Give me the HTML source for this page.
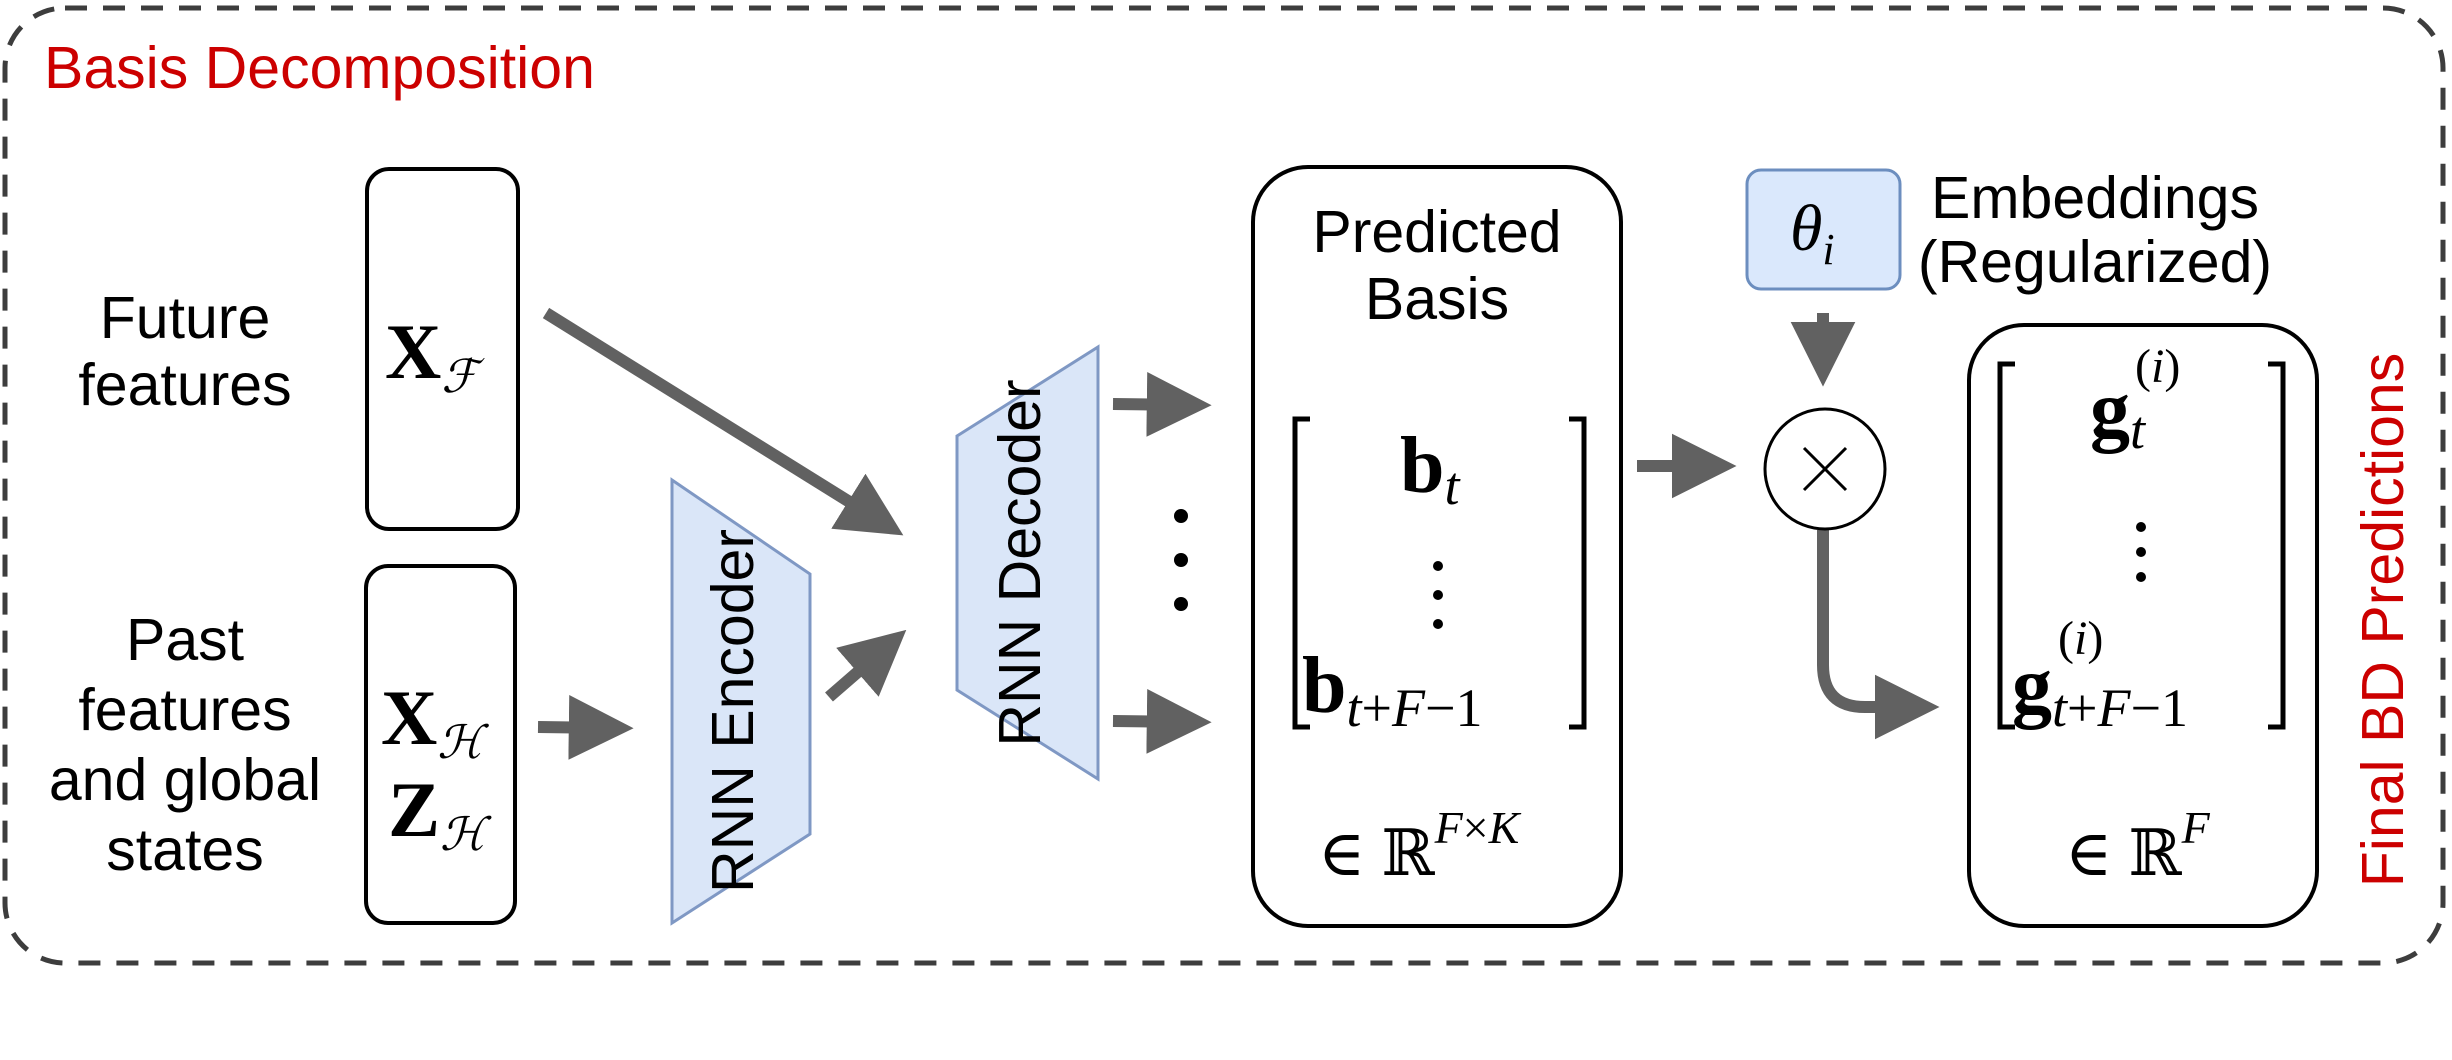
<!DOCTYPE html>
<html><head><meta charset="utf-8"><style>
html,body{margin:0;padding:0;background:#fff;}
svg{display:block}
.t{font-family:"Liberation Sans",Arial,sans-serif;font-size:59px;fill:#000}
.m{font-family:"Liberation Serif","DejaVu Serif",serif;fill:#000}
</style></head><body>
<svg width="2452" height="1060" viewBox="0 0 2452 1060" xmlns="http://www.w3.org/2000/svg">
<defs>
<marker id="ah" markerWidth="5.4" markerHeight="5.4" refX="3.6" refY="2.7" orient="auto" markerUnits="strokeWidth">
<path d="M0,0 L5.4,2.7 L0,5.4 z" fill="#616161"/>
</marker>
</defs>
<rect x="5" y="8" width="2438" height="955" rx="60" fill="none" stroke="#3d3d3d" stroke-width="5" stroke-dasharray="22,16"/>
<text x="44" y="88" class="t" style="fill:#cc0000">Basis Decomposition</text>

<text class="t" text-anchor="middle"><tspan x="185" y="338">Future</tspan><tspan x="185" y="405">features</tspan></text>
<text class="t" text-anchor="middle"><tspan x="185" y="660">Past</tspan><tspan x="185" y="730">features</tspan><tspan x="185" y="800">and global</tspan><tspan x="185" y="870">states</tspan></text>

<rect x="367" y="169" width="151" height="360" rx="22" fill="#fff" stroke="#000" stroke-width="4"/>
<rect x="366" y="566" width="149" height="357" rx="22" fill="#fff" stroke="#000" stroke-width="4"/>
<text class="m" x="385" y="378" font-size="78" font-weight="bold">X<tspan font-size="46" font-style="italic" font-weight="normal" dy="14">ℱ</tspan></text>
<text class="m" x="381" y="744" font-size="78" font-weight="bold">X<tspan font-size="46" font-style="italic" font-weight="normal" dy="14">ℋ</tspan></text>
<text class="m" x="388" y="836" font-size="78" font-weight="bold">Z<tspan font-size="46" font-style="italic" font-weight="normal" dy="14">ℋ</tspan></text>

<polygon points="672,480 810,574 810,834 672,923" fill="#dae6f8" stroke="#7f98c4" stroke-width="3"/>
<text class="t" font-size="36" text-anchor="middle" transform="translate(753,711) rotate(-90)">RNN Encoder</text>
<polygon points="957,436 1098,347 1098,779 957,690" fill="#dae6f8" stroke="#7f98c4" stroke-width="3"/>
<text class="t" font-size="36" text-anchor="middle" transform="translate(1040,563) rotate(-90)">RNN Decoder</text>

<g stroke="#616161" stroke-width="12" fill="none" marker-end="url(#ah)">
<line x1="546" y1="313" x2="885" y2="524"/>
<line x1="538" y1="727" x2="612" y2="728"/>
<line x1="829" y1="697" x2="890" y2="644"/>
<line x1="1113" y1="404" x2="1190" y2="405"/>
<line x1="1113" y1="721" x2="1190" y2="722"/>
<line x1="1637" y1="466" x2="1715" y2="466"/>
<line x1="1823" y1="313" x2="1823" y2="365"/>
<path d="M1823,530 L1823,665 Q1823,707 1865,707 L1918,707"/>
</g>
<circle cx="1181" cy="516" r="7" fill="#000"/>
<circle cx="1181" cy="560" r="7" fill="#000"/>
<circle cx="1181" cy="604" r="7" fill="#000"/>

<rect x="1253" y="167" width="368" height="759" rx="55" fill="#fff" stroke="#000" stroke-width="4"/>
<text class="t" text-anchor="middle"><tspan x="1437" y="252">Predicted</tspan><tspan x="1437" y="319">Basis</tspan></text>
<path d="M1310,419 H1295 V727 H1310 M1569,419 H1584 V727 H1569" fill="none" stroke="#000" stroke-width="5"/>
<text class="m" x="1400" y="492" font-size="80" font-weight="bold">b<tspan font-size="54" font-style="italic" font-weight="normal" dy="12">t</tspan></text>
<circle cx="1438" cy="566" r="5" fill="#000"/><circle cx="1438" cy="595" r="5" fill="#000"/><circle cx="1438" cy="624" r="5" fill="#000"/>
<text class="m" x="1302" y="712" font-size="80" font-weight="bold">b<tspan font-size="54" font-style="italic" font-weight="normal" dy="14">t</tspan><tspan font-size="54" font-weight="normal">+</tspan><tspan font-size="54" font-style="italic" font-weight="normal">F</tspan><tspan font-size="54" font-weight="normal">−1</tspan></text>
<text class="m" x="1318" y="875" font-size="64">∈ ℝ<tspan font-size="46" font-style="italic" dy="-32">F</tspan><tspan font-size="46">×</tspan><tspan font-size="46" font-style="italic">K</tspan></text>

<rect x="1747" y="170" width="153" height="119" rx="14" fill="#dae8fc" stroke="#6c8ebf" stroke-width="3"/>
<text class="m" x="1790" y="250" font-size="66" font-style="italic">θ<tspan font-size="44" dy="14">i</tspan></text>
<text class="t" text-anchor="middle"><tspan x="2095" y="218">Embeddings</tspan><tspan x="2095" y="282">(Regularized)</tspan></text>

<circle cx="1825" cy="469" r="60" fill="#fff" stroke="#000" stroke-width="3"/>
<path d="M1804,448 L1846,490 M1846,448 L1804,490" stroke="#000" stroke-width="3"/>

<rect x="1969" y="325" width="348" height="601" rx="55" fill="#fff" stroke="#000" stroke-width="4"/>
<path d="M2015,364 H2000 V727 H2015 M2268,364 H2283 V727 H2268" fill="none" stroke="#000" stroke-width="5"/>
<text class="m" x="2090" y="436" font-size="80" font-weight="bold">g<tspan font-size="54" font-style="italic" font-weight="normal" dy="12">t</tspan><tspan font-size="48" font-weight="normal" x="2135" dy="-66">(<tspan font-style="italic">i</tspan>)</tspan></text>
<circle cx="2141" cy="527" r="5" fill="#000"/><circle cx="2141" cy="552" r="5" fill="#000"/><circle cx="2141" cy="577" r="5" fill="#000"/>
<text class="m" x="2012" y="712" font-size="80" font-weight="bold">g<tspan font-size="54" font-style="italic" font-weight="normal" dy="14">t</tspan><tspan font-size="54" font-weight="normal">+</tspan><tspan font-size="54" font-style="italic" font-weight="normal">F</tspan><tspan font-size="54" font-weight="normal">−1</tspan><tspan font-size="48" font-weight="normal" x="2058" dy="-72">(<tspan font-style="italic">i</tspan>)</tspan></text>
<text class="m" x="2065" y="875" font-size="64">∈ ℝ<tspan font-size="46" font-style="italic" dy="-32">F</tspan></text>

<text class="t" font-size="60" text-anchor="middle" style="fill:#cc0000" transform="translate(2403,620) rotate(-90)">Final BD Predictions</text>
</svg>
</body></html>
